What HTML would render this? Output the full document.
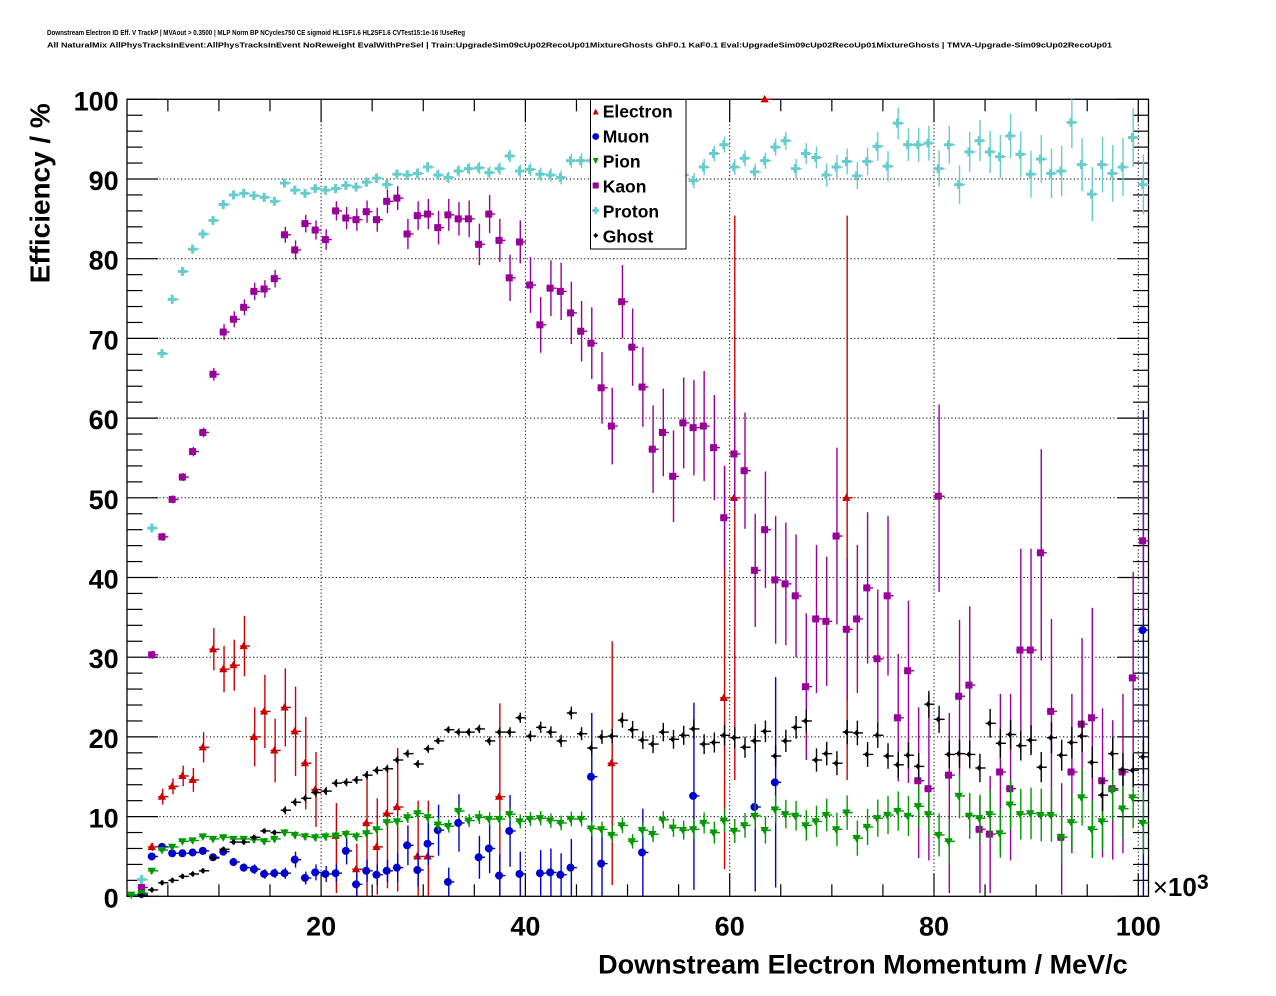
<!DOCTYPE html>
<html><head><meta charset="utf-8">
<style>
html,body{margin:0;padding:0;background:#fff;}
svg{display:block;}
text{font-family:"Liberation Sans",Arial,sans-serif;font-weight:bold;fill:#000;}
</style></head><body>
<svg id="s" width="1276" height="996" viewBox="0 0 1276 996" xmlns="http://www.w3.org/2000/svg">
<rect width="1276" height="996" fill="#fff"/>
<text x="47" y="35" font-size="7.5" textLength="418" lengthAdjust="spacingAndGlyphs">Downstream Electron ID Eff. V TrackP | MVAout &gt; 0.3500 | MLP Norm BP NCycles750 CE sigmoid HL1SF1.6 HL2SF1.6 CVTest15:1e-16 !UseReg</text>
<text x="47" y="47.3" font-size="7.5" textLength="1065" lengthAdjust="spacingAndGlyphs">All NaturalMix AllPhysTracksInEvent:AllPhysTracksInEvent NoReweight EvalWithPreSel | Train:UpgradeSim09cUp02RecoUp01MixtureGhosts GhF0.1 KaF0.1 Eval:UpgradeSim09cUp02RecoUp01MixtureGhosts | TMVA-Upgrade-Sim09cUp02RecoUp01</text>
<g id="grid"></g>
<g id="axes"></g>
<g id="data"></g>
<g font-size="27" text-anchor="end">
<text x="118.7" y="110.3">100</text>
<text x="118.7" y="190">90</text>
<text x="118.7" y="269.7">80</text>
<text x="118.7" y="349.4">70</text>
<text x="118.7" y="429.1">60</text>
<text x="118.7" y="508.8">50</text>
<text x="118.7" y="588.5">40</text>
<text x="118.7" y="668.2">30</text>
<text x="118.7" y="747.9">20</text>
<text x="118.7" y="827.6">10</text>
<text x="118.7" y="907.3">0</text>
</g>
<g font-size="27" text-anchor="middle">
<text x="321.1" y="935.3">20</text>
<text x="525.4" y="935.3">40</text>
<text x="729.7" y="935.3">60</text>
<text x="934" y="935.3">80</text>
<text x="1138.3" y="935.3">100</text>
</g>
<text x="1152.7" y="896" font-size="26"><tspan font-weight="normal">×</tspan>10</text>
<text x="1197" y="889" font-size="21">3</text>
<text x="1127.7" y="973.3" font-size="27" text-anchor="end">Downstream Electron Momentum / MeV/c</text>
<text transform="translate(49.3,283.3) rotate(-90)" x="0" y="0" font-size="28" textLength="180" lengthAdjust="spacingAndGlyphs">Efficiency / %</text>
<rect x="590.5" y="99.5" width="95.5" height="149.5" fill="#fff" stroke="#000" stroke-width="1"/>
<g font-size="17.5">
<text x="602.7" y="117.3">Electron</text>
<text x="602.7" y="142.3">Muon</text>
<text x="602.7" y="167.3">Pion</text>
<text x="602.7" y="192.3">Kaon</text>
<text x="602.7" y="217.3">Proton</text>
<text x="602.7" y="242.3">Ghost</text>
</g>
<polygon points="595.7,108.5 598.7,114.5 592.7,114.5" fill="#cc0000"/>
<circle cx="595.7" cy="136.5" r="3.4" fill="#0000cc"/>
<polygon points="592.7,158 598.7,158 595.7,164" fill="#009900"/>
<rect x="592.7" y="182.5" width="6" height="6" fill="#990099"/>
<rect x="592.2" y="209.2" width="7" height="2.6" fill="#66cccc"/><rect x="594.4" y="207" width="2.6" height="7" fill="#66cccc"/>
<polygon points="595.7,233 598.2,235.5 595.7,238 593.2,235.5" fill="#000"/>
</svg>
<script>
(function(){
const X0=127,BW=10.215,Y0=896.3,SY=7.97;
const cx=i=>X0+(i+0.5)*BW;
const cy=v=>Y0-v*SY;
const f=n=>n.toFixed(2);
let g='';
for(const k of [20,40,60,80,100]){const x=X0+(k-1)*BW;g+=`<line x1="${f(x)}" y1="99.3" x2="${f(x)}" y2="896.3" stroke="#000" stroke-width="1" stroke-dasharray="1.2 2.4"/>`;}
for(let v=10;v<100;v+=10){const y=cy(v);g+=`<line x1="127" y1="${f(y)}" x2="1148.5" y2="${f(y)}" stroke="#000" stroke-width="1" stroke-dasharray="1.2 2.4"/>`;}
document.getElementById('grid').innerHTML=g;
let a='<rect x="127" y="99.3" width="1021.5" height="797" fill="none" stroke="#000" stroke-width="1.3"/>';
for(let v=0;v<=100;v+=2){const y=f(cy(v));const L=(v%10===0)?31:15.5;
 a+=`<line x1="127" y1="${y}" x2="${127+L}" y2="${y}" stroke="#000" stroke-width="1.2"/>`;
 a+=`<line x1="${1148.5-L}" y1="${y}" x2="1148.5" y2="${y}" stroke="#000" stroke-width="1.2"/>`;}
for(let k=5;k<=100;k+=5){const x=f(X0+(k-1)*BW);const L=(k%20===0)?23:12;
 a+=`<line x1="${x}" y1="896.3" x2="${x}" y2="${896.3-L}" stroke="#000" stroke-width="1.2"/>`;
 a+=`<line x1="${x}" y1="99.3" x2="${x}" y2="${99.3+L}" stroke="#000" stroke-width="1.2"/>`;}
document.getElementById('axes').innerHTML=a;

let d='';
const clip=v=>Math.max(0,Math.min(100,v));
function eb(i,v,lo,hi,col){const x=cx(i),y=cy(v);
 d+=`<line x1="${f(x)}" y1="${f(cy(clip(hi)))}" x2="${f(x)}" y2="${f(cy(clip(lo)))}" stroke="${col}" stroke-width="1.4"/>`;
 d+=`<line x1="${f(x-4.6)}" y1="${f(y)}" x2="${f(x+5.6)}" y2="${f(y)}" stroke="${col}" stroke-width="1.4"/>`;}
const mk={
 tu:(x,y,c)=>`<polygon points="${f(x)},${f(y-4.4)} ${f(x+4.1)},${f(y+3.1)} ${f(x-4.1)},${f(y+3.1)}" fill="${c}"/>`,
 td:(x,y,c)=>`<polygon points="${f(x-4.2)},${f(y-3.1)} ${f(x+4.2)},${f(y-3.1)} ${f(x)},${f(y+4.4)}" fill="${c}"/>`,
 ci:(x,y,c)=>`<circle cx="${f(x)}" cy="${f(y)}" r="4" fill="${c}"/>`,
 sq:(x,y,c)=>`<rect x="${f(x-3.5)}" y="${f(y-3.5)}" width="7" height="7" fill="${c}"/>`,
 cr:(x,y,c)=>`<rect x="${f(x-4.5)}" y="${f(y-1.5)}" width="9" height="3" fill="${c}"/><rect x="${f(x-1.5)}" y="${f(y-4.5)}" width="3" height="9" fill="${c}"/>`,
 di:(x,y,c)=>`<polygon points="${f(x)},${f(y-3)} ${f(x+2.7)},${f(y)} ${f(x)},${f(y+3)} ${f(x-2.7)},${f(y)}" fill="${c}"/>`
};
function series(list,col,m){
 for(const e of list){const [i,v]=e;let lo,hi;if(e.length===3){lo=v-e[2];hi=v+e[2];}else{lo=e[2];hi=e[3];}eb(i,v,lo,hi,col);}
 for(const e of list){d+=mk[m](cx(e[0])-0.8,cy(e[1]),col);}
}
function fromVals(vals,errf){const out=[];vals.forEach((v,i)=>{if(v!==null)out.push([i,v,errf(i)]);});return out;}

const E=[[2,6.2,0.5],[3,12.5,1.0],[4,13.8,1.0],[5,15.1,1.3],[6,14.6,1.5],[7,18.7,1.9],[8,31.0,2.65],[9,28.5,2.9],[10,29.0,3.2],[11,31.4,3.8],[12,20.0,3.7],[13,23.2,4.6],[14,18.3,4.0],[15,23.7,4.9],[16,20.7,5.6],[17,16.7,5.8],[18,13.4,4.7],[20,7.6,0.4,11.7],[22,3.4,0,6.6],[23,9.2,0,15.7],[24,6.2,0.2,12.3],[25,10.4,1.0,15.7],[26,11.2,0.6,18.6],[28,5.0,0,12],[29,5.0,0,12],[36,12.5,0,24.2],[47,16.7,1.4,32],[58,24.9,3.4,54],[59,50,14.6,85.4],[62,100,100,100],[70,50,14.6,85.4]];

const M=[[1,0.3,0.2],[2,5.0,0.3],[3,6.2,0.3],[4,5.4,0.3],[5,5.4,0.3],[6,5.5,0.3],[7,5.7,0.4],[8,4.9,0.4],[9,5.6,0.5],[10,4.3,0.5],[11,3.6,0.5],[12,3.4,0.6],[13,2.8,0.6],[14,2.9,0.6],[15,2.9,0.7],[16,4.6,1.0],[17,2.3,0.8],[18,3.0,1.0],[19,2.8,1.0],[20,2.9,1.1],[21,5.7,1.7],[22,1.5,1.5],[23,3.2,1.4],[24,2.7,1.3],[25,3.2,1.4],[26,3.6,1.8],[27,6.4,2.5],[28,3.3,2.1],[29,6.6,2.7],[30,8.3,3.2],[31,1.8,1.8],[32,9.2,3.6],[34,4.9,2.7],[35,6.0,3.1],[36,2.6,2.6],[37,8.2,4.5],[38,2.8,2.8],[40,2.9,2.9],[41,3.0,3.0],[42,2.7,2.7],[43,3.6,3.6],[45,15.0,0,23],[46,4.1,0,8.3],[50,5.5,0,11],[55,12.6,0.8,24.3],[61,11.2,0.6,21.6],[63,14.3,1.1,27.5],[99,33.4,0,61]];

const Pv=[0.2,0.4,3.2,5.8,6.2,6.9,7.0,7.5,7.2,7.4,7.2,7.2,7.1,6.9,7.2,8.0,7.7,7.5,7.4,7.5,7.6,7.8,7.5,7.9,8.4,9.3,9.4,9.9,10.4,9.9,9.0,8.8,10.7,9.5,9.9,9.7,9.7,10.3,9.4,9.7,9.8,9.5,9.2,9.7,9.7,8.5,8.4,7.7,8.9,6.9,8.3,7.8,9.6,8.6,8.3,8.4,9.2,8.0,9.5,8.2,8.9,10.1,8.3,10.9,10.3,10.1,8.9,9.4,10.2,8.4,10.5,7.3,8.7,9.8,10.2,10.7,10.1,11.3,10.3,7.7,6.9,12.6,10.1,9.8,10.3,7.9,11.5,10.3,10.4,10.2,10.2,7.4,9.3,12.4,8.4,9.4,13.3,11.0,12.4,9.2];
const pe=i=>i<10?0.25:(i<30?0.35+(i-10)*0.02:(i<49?0.8+(i-30)*0.01:0.9+(i-49)*0.06));

const K=[[1,1.1,0.3],[2,30.3,0.5],[3,45.1,0.5],[4,49.8,0.5],[5,52.6,0.5],[6,55.8,0.6],[7,58.2,0.6],[8,65.5,0.8],[9,70.8,1.0],[10,72.4,1.0],[11,73.9,1.0],[12,75.9,1.1],[13,76.2,1.1],[14,77.5,1.1],[15,83.0,1.0],[16,81.1,1.2],[17,84.4,1.1],[18,83.6,1.2],[19,82.4,1.3],[20,86.0,1.2],[21,85.1,1.4],[22,84.9,1.4],[23,85.9,1.4],[24,84.9,1.5],[25,87.2,1.5],[26,87.6,1.5],[27,83.1,1.9],[28,85.4,1.8],[29,85.6,1.9],[30,83.9,2.1],[31,85.5,2.0],[32,85.0,2.1],[33,85.0,2.3],[34,81.8,2.6],[35,85.6,2.4],[36,82.3,2.7],[37,77.6,2.9],[38,82.1,2.7],[39,76.7,3.5],[40,71.7,3.5],[41,76.3,3.5],[42,75.9,3.6],[43,73.2,3.9],[44,70.9,3.8],[45,69.4,4.5],[46,63.8,4.5],[47,59.0,4.8],[48,74.6,4.6],[49,68.9,4.85],[50,63.9,5.0],[51,56.1,5.5],[52,58.2,5.5],[53,52.7,5.75],[54,59.4,5.7],[55,58.8,6.0],[56,59.0,6.9],[57,56.3,6.6],[58,47.5,6.5],[59,55.5,6.7],[60,53.4,7.3],[61,40.9,7.1],[62,46.0,7.3],[63,39.7,8.0],[64,39.2,7.7],[65,37.7,7.7],[66,26.3,9.2],[67,34.8,9.3],[68,34.5,8.1],[69,45.2,11.1],[70,33.5,8.9],[71,34.8,9.3],[72,38.7,9.5],[73,29.8,8.7],[74,37.7,10],[75,22.4,8.0],[76,28.3,14.2,37.1],[77,14.5,4.8,23.7],[78,13.5,4.5,25.3],[79,50.2,38.2,61.7],[80,15.2,0.4,23],[81,25.1,15.2,34.7],[82,26.5,18.4,36.4],[83,8.4,0.4,12.5],[84,7.8,0.4,15.1],[85,15.6,5.4,25.4],[86,13.5,4.5,25.4],[87,30.9,18,43.6],[88,30.9,18,43.6],[89,43.1,29.6,56.1],[90,23.2,10.4,34.8],[91,7.4,0.2,14.2],[92,15.6,5.4,25.4],[93,21.6,12.1,32.4],[94,22.4,6.2,36.2],[95,14.5,4.9,23.6],[96,13.5,4.6,22.1],[97,15.6,5.4,25.4],[98,27.4,13.8,40.7],[99,44.6,35,54]];

const Prv=[null,2.1,46.2,68.1,74.9,78.4,81.2,83.1,84.8,86.8,88.0,88.2,87.9,87.7,87.2,89.5,88.6,88.2,88.8,88.6,88.8,89.2,89.0,89.6,90.1,89.3,90.6,90.5,90.7,91.5,90.5,90.2,91.0,91.3,91.4,90.8,91.3,92.9,91.0,91.2,90.6,90.5,90.2,92.3,92.3,92.3,null,null,null,null,null,null,null,null,90.5,89.8,91.5,93.2,94.3,91.5,92.6,90.9,92.3,94.0,94.8,91.3,93.2,92.7,90.5,91.5,92.2,90.4,92.2,94.1,91.6,97.0,94.3,94.3,94.5,91.3,94.3,89.3,93.4,94.8,93.4,92.8,95.4,93.1,90.6,92.5,90.7,91.0,97.1,91.8,88.1,91.8,90.7,91.5,95.2,89.3];
const pre=i=>i<10?0.3:(i<46?0.4+(i-10)*0.015:Math.max(1.0,1+(i-62)*0.075));

const Gv=[null,0.1,0.8,1.7,2.0,2.5,2.8,3.2,4.8,5.9,6.8,6.8,7.4,8.2,8.0,10.8,11.8,12.3,13.0,13.2,14.2,14.3,14.6,15.2,15.8,16.0,17.1,17.9,16.6,18.5,19.5,20.9,20.6,20.6,21.0,19.5,20.6,20.6,22.4,20.1,21.2,20.6,19.5,23.0,20.4,18.6,20.0,20.1,22.1,20.9,19.6,19.1,20.6,19.7,20.2,21.0,19.1,19.3,20.2,19.9,18.7,19.5,20.7,17.6,19.5,21.2,22.0,17.1,17.9,16.7,20.6,20.5,17.8,20.2,17.6,16.5,17.7,16.3,24.1,22.2,17.8,17.9,17.8,16.1,21.7,19.2,20.3,18.9,19.6,16.2,19.9,17.7,19.3,20.1,16.8,12.7,17.9,15.9,15.8,17.5];
const ge=i=>i<15?0.3:(i<30?0.5:(i<49?0.4+(i-30)*0.03:1.1+(i-49)*0.02));

series(E,'#cc0000','tu');
series(M,'#0000cc','ci');
series(K,'#990099','sq');
series(fromVals(Pv,pe),'#009900','td');
series(fromVals(Prv,pre),'#66cccc','cr');
series(fromVals(Gv,ge),'#000000','di');
document.getElementById('data').innerHTML=d;
})();
</script>
</body></html>
